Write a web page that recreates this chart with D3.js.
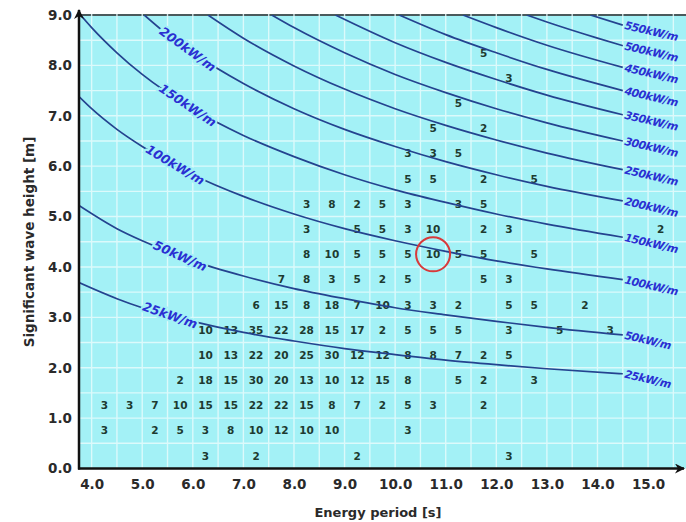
<!DOCTYPE html>
<html>
<head>
<meta charset="utf-8">
<script src="https://cdn.jsdelivr.net/npm/d3@7"></script>
<style>
  body { margin: 0; background: #fff; }
  svg { display: block; }
</style>
</head>
<body>
<div id="chart"></div>
<script>
// --- values ---
const periodTicks = [4, 5, 6, 7, 8, 9, 10, 11, 12, 13, 14, 15];
const heightTicks = [0, 1, 2, 3, 4, 5, 6, 7, 8, 9];

// occurrences per Hs bin: [energy period bin centre, count]
const heightBins = [0.25, 0.75, 1.25, 1.75, 2.25, 2.75, 3.25, 3.75, 4.25, 4.75, 5.25, 5.75, 6.25, 6.75, 7.25, 7.75, 8.25];
const occurrences = [
  [[6.25, 3], [7.25, 2], [9.25, 2], [12.25, 3]],
  [[4.25, 3], [5.25, 2], [5.75, 5], [6.25, 3], [6.75, 8], [7.25, 10], [7.75, 12], [8.25, 10], [8.75, 10], [10.25, 3]],
  [[4.25, 3], [4.75, 3], [5.25, 7], [5.75, 10], [6.25, 15], [6.75, 15], [7.25, 22], [7.75, 22], [8.25, 15], [8.75, 8], [9.25, 7], [9.75, 2], [10.25, 5], [10.75, 3], [11.75, 2]],
  [[5.75, 2], [6.25, 18], [6.75, 15], [7.25, 30], [7.75, 20], [8.25, 13], [8.75, 10], [9.25, 12], [9.75, 15], [10.25, 8], [11.25, 5], [11.75, 2], [12.75, 3]],
  [[6.25, 10], [6.75, 13], [7.25, 22], [7.75, 20], [8.25, 25], [8.75, 30], [9.25, 12], [9.75, 12], [10.25, 8], [10.75, 8], [11.25, 7], [11.75, 2], [12.25, 5]],
  [[6.25, 10], [6.75, 13], [7.25, 35], [7.75, 22], [8.25, 28], [8.75, 15], [9.25, 17], [9.75, 2], [10.25, 5], [10.75, 5], [11.25, 5], [12.25, 3], [13.25, 5], [14.25, 3]],
  [[7.25, 6], [7.75, 15], [8.25, 8], [8.75, 18], [9.25, 7], [9.75, 10], [10.25, 3], [10.75, 3], [11.25, 2], [12.25, 5], [12.75, 5], [13.75, 2]],
  [[7.75, 7], [8.25, 8], [8.75, 3], [9.25, 5], [9.75, 2], [10.25, 5], [11.75, 5], [12.25, 3]],
  [[8.25, 8], [8.75, 10], [9.25, 5], [9.75, 5], [10.25, 5], [10.75, 10], [11.25, 5], [11.75, 5], [12.75, 5]],
  [[8.25, 3], [9.25, 5], [9.75, 5], [10.25, 3], [10.75, 10], [11.75, 2], [12.25, 3], [15.25, 2]],
  [[8.25, 3], [8.75, 8], [9.25, 2], [9.75, 5], [10.25, 3], [11.25, 3], [11.75, 5]],
  [[10.25, 5], [10.75, 5], [11.75, 2], [12.75, 5]],
  [[10.25, 3], [10.75, 3], [11.25, 5]],
  [[10.75, 5], [11.75, 2]],
  [[11.25, 5]],
  [[12.25, 3]],
  [[11.75, 5]]
];

// wave power contours, [Te, Hs] points
const powerLevels = [25, 50, 100, 150, 200, 250, 300, 350, 400, 450, 500, 550];
const isoCurves = [
  [[3.75, 3.69], [4.5, 3.37], [5, 3.19], [6, 2.92], [7, 2.70], [8, 2.53], [9, 2.38], [10, 2.26], [11, 2.15], [12, 2.06], [13, 1.98], [14.5, 1.88]],
  [[3.75, 5.22], [4.5, 4.76], [5, 4.52], [6, 4.12], [7, 3.82], [8, 3.57], [9, 3.37], [10, 3.19], [11, 3.05], [12, 2.92], [13, 2.80], [14.5, 2.65]],
  [[3.75, 7.38], [4, 7.14], [4.5, 6.73], [5, 6.39], [6, 5.83], [7, 5.40], [8, 5.05], [9, 4.76], [10, 4.52], [11, 4.31], [12, 4.12], [13, 3.96], [14.5, 3.75]],
  [[3.78, 9.0], [4, 8.75], [4.5, 8.25], [5, 7.82], [6, 7.14], [7, 6.61], [8, 6.19], [9, 5.83], [10, 5.53], [11, 5.28], [12, 5.05], [13, 4.85], [14.5, 4.59]],
  [[5.04, 9.0], [5.5, 8.61], [6, 8.25], [7, 7.64], [8, 7.14], [9, 6.73], [10, 6.39], [11, 6.09], [12, 5.83], [13, 5.60], [14.5, 5.31]],
  [[6.3, 9.0], [7, 8.54], [8, 7.99], [9, 7.53], [10, 7.14], [11, 6.81], [12, 6.52], [13, 6.26], [14.5, 5.93]],
  [[7.56, 9.0], [8, 8.75], [9, 8.25], [10, 7.82], [11, 7.46], [12, 7.14], [13, 6.86], [14.5, 6.50]],
  [[8.82, 9.0], [10, 8.45], [11, 8.06], [12, 7.72], [13, 7.41], [14.5, 7.02]],
  [[10.08, 9.0], [11, 8.61], [12, 8.25], [13, 7.92], [14.5, 7.50]],
  [[11.34, 9.0], [12, 8.75], [13, 8.40], [14.5, 7.96]],
  [[12.6, 9.0], [13, 8.86], [14, 8.54], [14.5, 8.39]],
  [[13.86, 9.0], [14.5, 8.80]]
];

// contours labelled inside the plot, and the highlighted cell
const inlineLabelLevels = [200, 150, 100, 50, 25];
const markedCell = [10.75, 4.25];

// --- layout / style ---
const W = 686, H = 522;
const inlineLabelTe = [5.9, 5.9, 5.65, 5.75, 5.55];
const inlineLabelAngle = [36, 34, 31, 24, 19];
const bg = '#a3f1f6';
const curveColor = '#24438f';
const labelColor = '#2a2fd2';
const font = 'DejaVu Sans, Verdana, sans-serif';

const svg = d3.select('#chart').append('svg')
  .attr('width', W).attr('height', H);

const x = d3.scaleLinear().domain([3.75, 15.75]).range([79, 686]);
const y = d3.scaleLinear().domain([0, 9]).range([468.5, 15]);

// plot background
svg.append('rect')
  .attr('x', x(3.75)).attr('y', y(9))
  .attr('width', x(15.75) - x(3.75)).attr('height', y(0) - y(9))
  .attr('fill', bg);

// top border
svg.append('line')
  .attr('x1', x(3.75)).attr('x2', x(15.75))
  .attr('y1', y(9)).attr('y2', y(9))
  .attr('stroke', '#4a5a5c').attr('stroke-width', 2);

// grid every 0.5
const grid = svg.append('g').attr('stroke', '#e6fcfd').attr('stroke-width', 1.4).attr('opacity', 0.85);
grid.selectAll('line.v')
  .data(d3.range(4, 15.75, 0.5))
  .enter().append('line')
  .attr('x1', d => x(d)).attr('x2', d => x(d))
  .attr('y1', y(9) - 1).attr('y2', y(0));
grid.selectAll('line.h')
  .data(d3.range(0.5, 9, 0.5))
  .enter().append('line')
  .attr('x1', x(3.75)).attr('x2', x(15.75))
  .attr('y1', d => y(d)).attr('y2', d => y(d));

// occurrence counts
const cells = [];
heightBins.forEach((hs, i) => occurrences[i].forEach(([te, n]) => cells.push({ te, hs, n })));

svg.append('g')
  .selectAll('text')
  .data(cells)
  .enter().append('text')
  .attr('x', d => x(d.te))
  .attr('y', d => y(d.hs))
  .attr('dy', '0.36em')
  .attr('text-anchor', 'middle')
  .attr('font-family', font)
  .attr('font-weight', 'bold')
  .attr('font-size', 10.5)
  .attr('fill', '#1d3a30')
  .text(d => d.n);

// contours
svg.append('defs').append('clipPath').attr('id', 'plot-clip')
  .append('rect')
  .attr('x', x(3.75)).attr('y', y(9))
  .attr('width', x(15.75) - x(3.75)).attr('height', y(0) - y(9));

const line = d3.line()
  .x(d => x(d[0]))
  .y(d => y(d[1]))
  .curve(d3.curveMonotoneX);

svg.append('g')
  .attr('clip-path', 'url(#plot-clip)')
  .selectAll('path')
  .data(isoCurves)
  .enter().append('path')
  .attr('d', line)
  .attr('fill', 'none')
  .attr('stroke', curveColor)
  .attr('stroke-width', 1.7);

// labels at the right-hand end of every contour
svg.append('g')
  .selectAll('text')
  .data(powerLevels)
  .enter().append('text')
  .attr('transform', (d, i) => {
    const end = isoCurves[i][isoCurves[i].length - 1];
    return `translate(${x(end[0]) + 2},${y(end[1])}) rotate(13)`;
  })
  .attr('dy', '0.35em')
  .attr('font-family', font)
  .attr('font-style', 'italic')
  .attr('font-weight', 600)
  .attr('font-size', 11)
  .attr('letter-spacing', -0.5)
  .attr('fill', labelColor)
  .text(d => d + 'kW/m');

// labels sitting on the curves
function hsAt(points, te) {
  for (let k = 1; k < points.length; k++) {
    if (te <= points[k][0]) {
      const [a, b] = [points[k - 1], points[k]];
      return a[1] + (b[1] - a[1]) * (te - a[0]) / (b[0] - a[0]);
    }
  }
  return points[points.length - 1][1];
}

svg.append('g')
  .selectAll('text')
  .data(inlineLabelLevels)
  .enter().append('text')
  .attr('transform', (d, i) => {
    const pts = isoCurves[powerLevels.indexOf(d)];
    const te = inlineLabelTe[i];
    return `translate(${x(te)},${y(hsAt(pts, te))}) rotate(${inlineLabelAngle[i]})`;
  })
  .attr('dy', '0.35em')
  .attr('text-anchor', 'middle')
  .attr('font-family', font)
  .attr('font-style', 'italic')
  .attr('font-weight', 600)
  .attr('font-size', 12.5)
  .attr('fill', labelColor)
  .attr('stroke', bg)
  .attr('stroke-width', 4)
  .attr('paint-order', 'stroke')
  .text(d => d + 'kW/m');

// highlighted cell
svg.append('circle')
  .attr('cx', x(markedCell[0]))
  .attr('cy', y(markedCell[1]))
  .attr('r', 17)
  .attr('fill', 'none')
  .attr('stroke', '#d8393a')
  .attr('stroke-width', 2);

// axes
const tickFont = g => g.selectAll('text')
  .attr('font-family', font)
  .attr('font-weight', 'bold')
  .attr('font-size', 13.5)
  .attr('fill', '#2a2a2a');

const xAxis = d3.axisBottom(x)
  .tickValues(periodTicks)
  .tickSize(0)
  .tickPadding(11)
  .tickFormat(d3.format('.1f'));

svg.append('g')
  .attr('transform', `translate(0,${y(0)})`)
  .call(xAxis)
  .call(g => g.select('.domain').remove())
  .call(tickFont);

const yAxis = d3.axisLeft(y)
  .tickValues(heightTicks)
  .tickSize(0)
  .tickPadding(7)
  .tickFormat(d3.format('.1f'));

svg.append('g')
  .attr('transform', `translate(${x(3.75)},0)`)
  .call(yAxis)
  .call(g => g.select('.domain').remove())
  .call(tickFont);

// axis lines with arrow heads
const defs = svg.select('defs');
defs.append('marker')
  .attr('id', 'arrow')
  .attr('viewBox', '0 0 10 10')
  .attr('refX', 9).attr('refY', 5)
  .attr('markerWidth', 4).attr('markerHeight', 4)
  .attr('orient', 'auto')
  .append('path')
  .attr('d', 'M0,0 L10,5 L0,10 L3,5 Z')
  .attr('fill', '#111');

svg.append('line')
  .attr('x1', x(3.75)).attr('y1', y(0) + 1)
  .attr('x2', x(3.75)).attr('y2', y(9) - 5)
  .attr('stroke', '#111').attr('stroke-width', 2.5)
  .attr('marker-end', 'url(#arrow)');

svg.append('line')
  .attr('x1', x(3.75) - 1).attr('y1', y(0))
  .attr('x2', x(15.75) - 2).attr('y2', y(0))
  .attr('stroke', '#111').attr('stroke-width', 2.5)
  .attr('marker-end', 'url(#arrow)');

// axis titles
svg.append('text')
  .attr('x', 378).attr('y', 512)
  .attr('dy', '0.35em')
  .attr('text-anchor', 'middle')
  .attr('font-family', font)
  .attr('font-weight', 'bold')
  .attr('font-size', 13)
  .attr('fill', '#2a2a2a')
  .text('Energy period [s]');

svg.append('text')
  .attr('transform', 'translate(29,242) rotate(-90)')
  .attr('dy', '0.35em')
  .attr('text-anchor', 'middle')
  .attr('font-family', font)
  .attr('font-weight', 'bold')
  .attr('font-size', 13.5)
  .attr('fill', '#2a2a2a')
  .text('Significant wave height [m]');
</script>
</body>
</html>
